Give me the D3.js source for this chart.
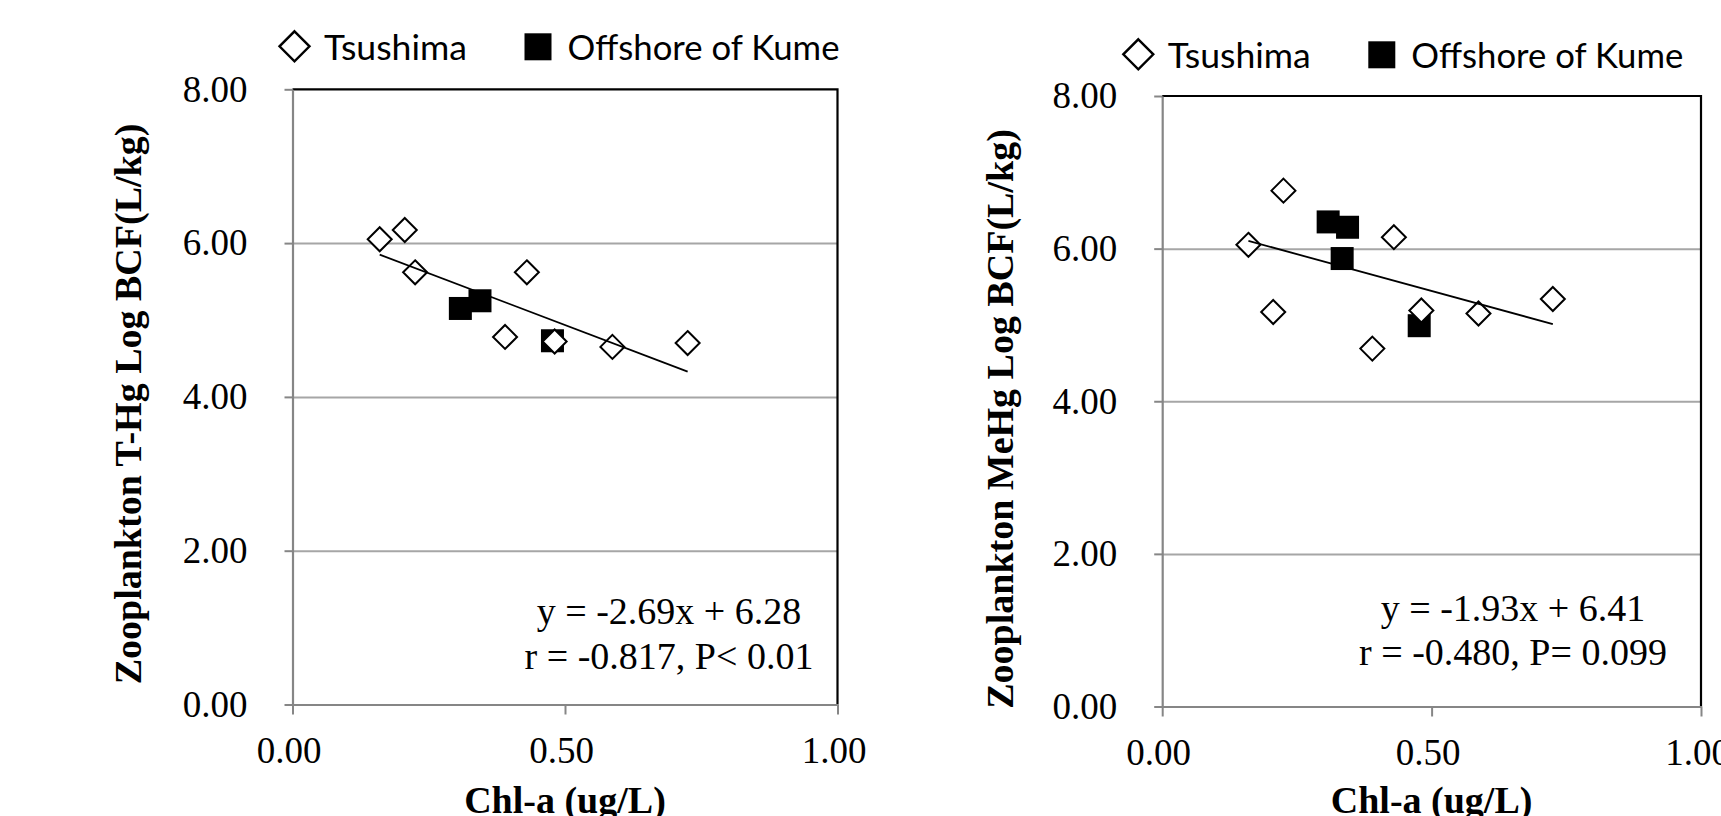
<!DOCTYPE html>
<html>
<head>
<meta charset="utf-8">
<script src="https://cdn.jsdelivr.net/npm/d3@7"></script>
<style>
  html, body { margin: 0; padding: 0; background: #fff; }
  #app { width: 1721px; height: 816px; overflow: hidden; }
</style>
</head>
<body>
<div id="app"></div>
<script>
// Chl-a (ug/L) per sample
const chlTsushima = [0.160, 0.206, 0.225, 0.390, 0.430, 0.481, 0.587, 0.725];
const chlKume     = [0.308, 0.334, 0.344, 0.477];

// Zooplankton log BCF (L/kg); null = not plotted
const thgTsushima  = [6.05, 6.17, 5.62, 4.78, 5.62, 4.72, 4.65, 4.70];
const thgKume      = [5.15, null, 5.25, 4.73];
const mehgTsushima = [6.05, 5.17, 6.76, 4.69, 6.15, 5.19, 5.15, 5.34];
const mehgKume     = [6.35, 5.87, 6.28, 4.99];

// Regression fits shown on each chart
const fitSlope     = [-2.69, -1.93];
const fitIntercept = [6.28, 6.41];
const fitLabels    = [
  ["y = -2.69x + 6.28", "r = -0.817, P< 0.01"],
  ["y = -1.93x + 6.41", "r = -0.480, P= 0.099"]
];

const yTitles     = ["Zooplankton T-Hg Log BCF(L/kg)", "Zooplankton MeHg Log BCF(L/kg)"];
const xTitle      = "Chl-a (ug/L)";
const seriesNames = ["Tsushima", "Offshore of Kume"];
const xTicks = [0, 0.5, 1];
const yTicks = [0, 2, 4, 6, 8];

const SERIF = "'Liberation Serif', 'Times New Roman', serif";
const SANS  = "Lato, 'Noto Sans', sans-serif";

// panel placement
const panels = [
  {left: 292.5, right: 837.5, top: 89.3, bottom: 704.5, titleX: 141, titleY: 404,
   legend: [294.5, 46.3], fitX: 669, fitY: 624, fitGap: 45},
  {left: 1162.2, right: 1701, top: 96, bottom: 706.5, titleX: 1013, titleY: 419,
   legend: [1138.3, 54.3], fitX: 1513, fitY: 621, fitGap: 44}
];

// d3.symbolDiamond2 spans 1.2525*sqrt(size) from tip to tip
const diamondSize = w => (w / 1.2525) ** 2;
const diamond = d3.symbol().type(d3.symbolDiamond2);

function drawPanel(svg, p, yTs, yKm, k) {
  const x = d3.scaleLinear().domain([0, 1]).range([p.left, p.right]);
  const y = d3.scaleLinear().domain([0, 8]).range([p.bottom, p.top]);
  const g = svg.append("g");

  // gridlines
  g.append("g")
    .attr("transform", `translate(${x(0)},0)`)
    .call(d3.axisLeft(y).tickValues([2, 4, 6]).tickSize(-(x(1) - x(0))).tickFormat(""))
    .call(a => a.select(".domain").remove())
    .selectAll("line").attr("stroke", "#a6a6a6").attr("stroke-width", 2);

  // plot area border: top and right
  g.append("path")
    .attr("d", `M${x(0)},${y(8)}H${x(1)}V${y(0)}`)
    .attr("fill", "none").attr("stroke", "#000").attr("stroke-width", 2.2);

  const yAxis = g.append("g")
    .attr("transform", `translate(${x(0)},0)`)
    .call(d3.axisLeft(y).tickValues(yTicks).tickFormat(d3.format(".2f"))
      .tickSize(8).tickSizeOuter(0).tickPadding(37));

  const xAxis = g.append("g")
    .attr("transform", `translate(0,${y(0)})`)
    .call(d3.axisBottom(x).tickValues(xTicks).tickFormat(d3.format(".2f"))
      .tickSize(10).tickSizeOuter(0).tickPadding(22));
  xAxis.selectAll("text").attr("x", -4);

  [yAxis, xAxis].forEach(a => {
    a.attr("font-family", SERIF).attr("font-size", 37);
    a.select(".domain").attr("stroke", "#868686").attr("stroke-width", 2.2);
    a.selectAll(".tick line").attr("stroke", "#868686").attr("stroke-width", 2);
    a.selectAll("text").attr("fill", "#000");
  });

  // Offshore of Kume (squares), drawn under Tsushima
  const km = chlKume.map((c, i) => ({c, v: yKm[i]})).filter(d => d.v != null);
  const sq = 23;
  g.append("g").selectAll("rect")
    .data(km).join("rect")
    .attr("x", d => x(d.c) - sq / 2).attr("y", d => y(d.v) - sq / 2)
    .attr("width", sq).attr("height", sq)
    .attr("fill", "#000");

  // Tsushima (diamonds)
  const ts = chlTsushima.map((c, i) => ({c, v: yTs[i]}));
  g.append("g").selectAll("path")
    .data(ts).join("path")
    .attr("d", diamond.size(diamondSize(24)))
    .attr("transform", d => `translate(${x(d.c)},${y(d.v)})`)
    .attr("fill", "#fff").attr("stroke", "#000").attr("stroke-width", 2);

  // trend line over the x range of the points
  const ext = d3.extent(chlTsushima.concat(km.map(d => d.c)));
  g.append("path")
    .datum(ext)
    .attr("d", d3.line().x(d => x(d)).y(d => y(fitSlope[k] * d + fitIntercept[k])))
    .attr("fill", "none").attr("stroke", "#000").attr("stroke-width", 1.8);

  // fit equation
  g.append("g").selectAll("text")
    .data(fitLabels[k]).join("text")
    .attr("x", p.fitX).attr("y", (d, i) => p.fitY + i * p.fitGap)
    .attr("text-anchor", "middle")
    .attr("font-family", SERIF).attr("font-size", 38)
    .text(d => d);

  // axis titles
  g.append("text")
    .attr("transform", `translate(${p.titleX},${p.titleY}) rotate(-90)`)
    .attr("text-anchor", "middle")
    .attr("font-family", SERIF).attr("font-size", 38).attr("font-weight", "bold")
    .text(yTitles[k]);

  g.append("text")
    .attr("x", (x(0) + x(1)) / 2).attr("y", 813)
    .attr("text-anchor", "middle")
    .attr("font-family", SERIF).attr("font-size", 38).attr("font-weight", "bold")
    .text(xTitle);

  // legend
  const [lx, ly] = p.legend;
  const leg = g.append("g").attr("transform", `translate(${lx},${ly})`);
  leg.append("path")
    .attr("d", diamond.size(diamondSize(30)))
    .attr("fill", "#fff").attr("stroke", "#000").attr("stroke-width", 2.4);
  leg.append("text")
    .attr("x", 29.5).attr("y", 13.5)
    .attr("font-family", SANS).attr("font-size", 34)
    .attr("textLength", 143).attr("lengthAdjust", "spacingAndGlyphs")
    .text(seriesNames[0]);
  leg.append("rect")
    .attr("x", 243.5 - 13.5).attr("y", -13).attr("width", 27).attr("height", 27)
    .attr("fill", "#000");
  leg.append("text")
    .attr("x", 273).attr("y", 13.5)
    .attr("font-family", SANS).attr("font-size", 34)
    .attr("textLength", 272).attr("lengthAdjust", "spacingAndGlyphs")
    .text(seriesNames[1]);
}

function main() {
  const element = d3.select("#app");
  const width = 1721, height = 816;
  const svg = d3.create("svg")
    .attr("width", width)
    .attr("height", height)
    .attr("viewBox", [0, 0, width, height])
    .style("background", "#fff");

  drawPanel(svg, panels[0], thgTsushima, thgKume, 0);
  drawPanel(svg, panels[1], mehgTsushima, mehgKume, 1);

  element.node().append(svg.node());
}

document.addEventListener("DOMContentLoaded", main);
</script>
</body>
</html>
